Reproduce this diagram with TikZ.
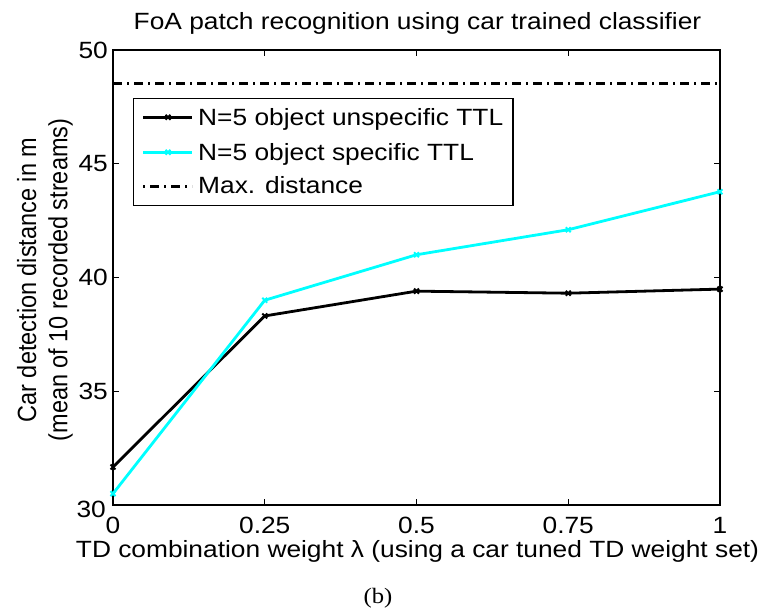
\documentclass[tikz,border=0pt]{standalone}
\usepackage{fontspec}
\setmainfont{Liberation Sans}
\newfontfamily\capfont{Liberation Serif}
\usepackage{tikz}
\definecolor{mcyan}{rgb}{0,1,1}

\begin{document}
\begin{tikzpicture}[x=1pt, y=1pt,
        lbl/.style = {inner sep=0pt, font=\fontsize{23.5}{28}\selectfont, xscale=1.12},
        frame/.style = {line width=1.6pt},
        tickmark/.style = {line width=1pt},
        series/.style = {line width=2.8pt, mark=x, mark size=3.5pt, mark options={line width=2pt}},
        maxline/.style = {line width=2.6pt, dash pattern=on 9pt off 5pt on 2pt off 5pt},]
    \useasboundingbox (0,0) rectangle (762,614);

    % data area, x in [0,1], y in [30,50]
    \begin{scope}[x=607pt, y=22.75pt, shift={(113pt,-573.5pt)}]
        \draw[frame] (0,30) rectangle (1,50);
        \foreach \t in {0.25,0.5,0.75} {
            \draw[tickmark] (\t,30) -- ++(0,6pt);
            \draw[tickmark] (\t,50) -- ++(0,-6pt);
        }
        \foreach \v in {35,40,45} {
            \draw[tickmark] (0,\v) -- ++(6pt,0);
            \draw[tickmark] (1,\v) -- ++(-6pt,0);
        }
        \foreach \t [count=\i] in {0,0.25,0.5,0.75,1}
            \node[lbl, anchor=base] (xtick\i) at ([yshift=-28pt]\t,30) {\t};
        \foreach \v [count=\i] in {35,40,45,50}
            \node[lbl, anchor=east] (ytick\i) at ([xshift=-5pt]0,\v) {\v};
        \node[lbl, anchor=east] (ytick0) at ([xshift=-7pt, yshift=-4pt]0,30) {30};

        \draw[maxline] (0,48.54) -- (1,48.54);
        \draw[series] plot coordinates {(0,31.67) (0.25,38.31) (0.5,39.4) (0.75,39.31) (1,39.49)};
        \draw[series, mcyan] plot coordinates {(0,30.5) (0.25,39.0) (0.5,41.0) (0.75,42.1) (1,43.77)};
    \end{scope}

    % legend
    \draw[line width=1.4pt, fill=white] (133.3,408.3) rectangle (513,515.7);
    \draw[series, mark indices={2}] plot coordinates {(143,496.7) (168,496.7) (192,496.7)};
    \draw[series, mcyan, mark indices={2}] plot coordinates {(143,461.7) (168,461.7) (192,461.7)};
    \draw[maxline, dash pattern=on 2pt off 5pt on 9pt off 5pt] (143,427.3) -- (192,427.3);
    \node[lbl, anchor=base west] (leg1) at (198,488) {N=5 object unspecific TTL};
    \node[lbl, anchor=base west] (leg2) at (198,453) {N=5 object specific TTL};
    \node[lbl, anchor=base west] (leg3) at (198,420) {Max. distance};

    % labels
    \node[lbl, anchor=base] (title) at (417.5,584) {FoA patch recognition using car trained classifier};
    \node[lbl, anchor=base] (xlabel) at (417.5,57) {TD combination weight λ (using a car tuned TD weight set)};
    \node[lbl, rotate=90, align=center] (ylabel) at (45,334) {Car detection distance in m\\(mean of 10 recorded streams)};
    \node[lbl, font=\capfont\fontsize{22}{26}\selectfont, anchor=base] (caption) at (378,11) {(b)};
\end{tikzpicture}
\end{document}
